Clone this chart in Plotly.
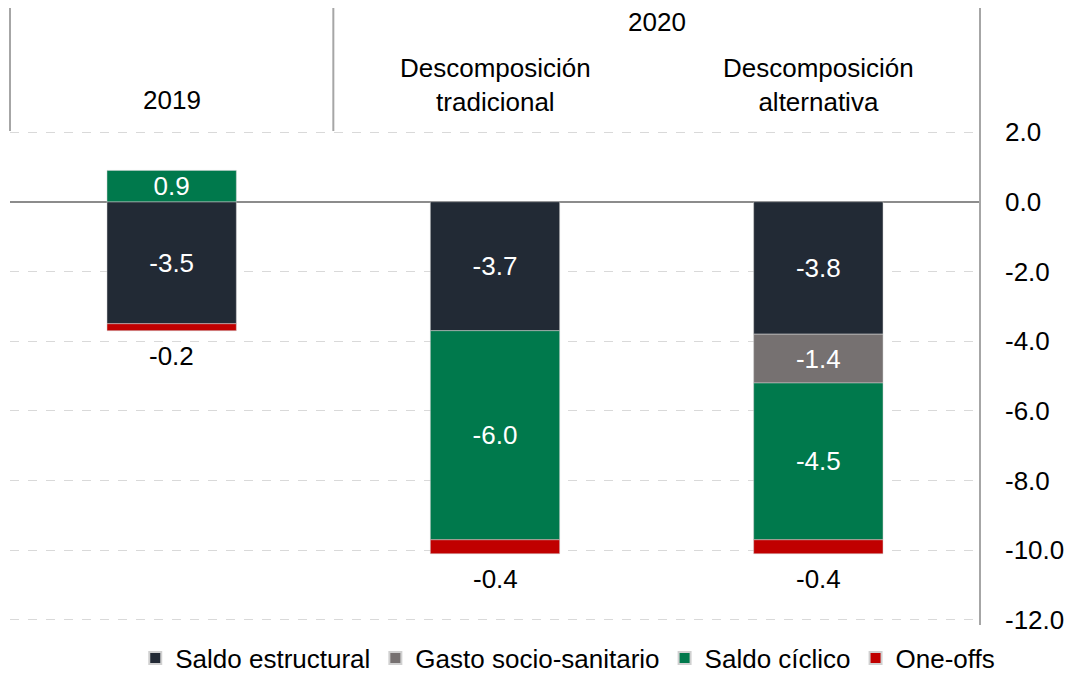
import plotly.graph_objects as go

categories = ["2019", "2020 tradicional", "2020 alternativa"]
header_labels = ["2019", "Descomposición<br>tradicional", "Descomposición<br>alternativa"]
group_label = "2020"
saldo_estructural = [-3.5, -3.7, -3.8]
gasto_socio = [None, None, -1.4]
saldo_ciclico = [0.9, -6.0, -4.5]
one_offs = [-0.2, -0.4, -0.4]
y_ticks = [2, 0, -2, -4, -6, -8, -10, -12]

series = [
    ("Saldo estructural", saldo_estructural, "#222A35"),
    ("Gasto socio-sanitario", gasto_socio, "#767171"),
    ("Saldo cíclico", saldo_ciclico, "#00794C"),
    ("One-offs", one_offs, "#C00000"),
]

FONT = "Liberation Sans, Arial, sans-serif"
FS = 26
fig = go.Figure()
xs = list(range(len(categories)))
for name, vals, col in series:
    show_inside = name != "One-offs"
    fig.add_trace(go.Bar(
        x=xs, y=vals, name=name, width=0.4,
        marker=dict(color=col, line=dict(color="#d0d0d0", width=0.5)),
        text=[(f"{v:.1f}" if (v is not None and show_inside) else "") for v in vals],
        textposition="inside", insidetextanchor="middle", textangle=0,
        constraintext="none",
        textfont=dict(color="white", size=FS, family=FONT),
        hoverinfo="skip",
    ))

# one-off labels below the bars
for i in xs:
    s = 0
    for _, vals, _ in series:
        v = vals[i]
        if v is not None and v < 0:
            s += v
    fig.add_annotation(x=i, y=s, xref="x", yref="y", text=f"{one_offs[i]:.1f}",
                       showarrow=False, yanchor="top", yshift=-8,
                       font=dict(size=FS, family=FONT, color="black"))

fig.update_layout(
    width=1072, height=674,
    margin=dict(l=2, r=100, t=123, b=61, autoexpand=False),
    barmode="relative", bargap=0.6,
    plot_bgcolor="white", paper_bgcolor="white",
    font=dict(family=FONT, size=FS, color="black"),
    showlegend=True,
    legend=dict(orientation="h", x=0.575, xanchor="center", y=-0.0755, yanchor="middle",
                font=dict(size=FS, family=FONT), itemwidth=30, traceorder="normal",
                tracegroupgap=0, itemsizing="constant"),
    xaxis=dict(range=[-0.5, 2.5], showticklabels=False, showgrid=False,
               zeroline=False, showline=False, ticks=""),
    yaxis=dict(side="right", range=[-12.03, 2.03], tickvals=y_ticks,
               ticktext=[f"{v:.1f}" for v in y_ticks], ticks="",
               ticklabelstandoff=24, showgrid=True, gridcolor="#d9d9d9",
               griddash="dash", gridwidth=1, zeroline=True,
               zerolinecolor="#8c8c8c", zerolinewidth=2, showline=False,
               tickfont=dict(size=FS, family=FONT)),
)

top = 1.26
line_col = "#a6a6a6"
fig.add_shape(type="line", xref="paper", yref="paper", x0=1, x1=1, y0=-0.008, y1=top,
              line=dict(color=line_col, width=2))
fig.add_shape(type="line", xref="paper", yref="paper", x0=0, x1=0, y0=1, y1=top,
              line=dict(color=line_col, width=2))
fig.add_shape(type="line", xref="x", yref="paper", x0=0.5, x1=0.5, y0=1, y1=top,
              line=dict(color=line_col, width=2))

for i, lab in enumerate(header_labels):
    yy = 1.0633 if "<br>" not in lab else 1.0939
    fig.add_annotation(x=i, y=yy, xref="x", yref="paper", text=lab, showarrow=False,
                       xanchor="center", yanchor="middle",
                       font=dict(size=FS, family=FONT, color="black"), align="center")
fig.add_annotation(x=1.5, y=1.2215, xref="x", yref="paper", text=group_label, showarrow=False,
                   xanchor="center", yanchor="middle", borderpad=0,
                   font=dict(size=FS, family=FONT, color="black"))

fig.write_html("out.html")
